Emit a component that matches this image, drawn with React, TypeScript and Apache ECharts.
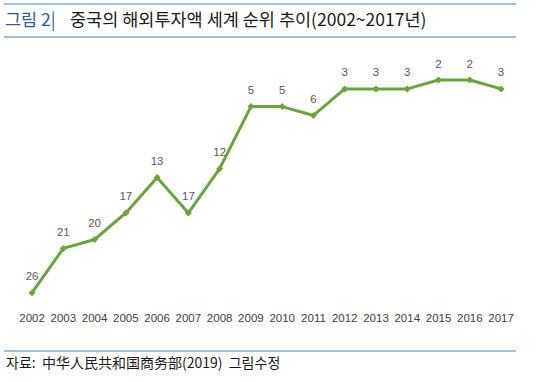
import React, { useEffect, useRef } from "react";
import * as echarts from "echarts";

const years = ["2002","2003","2004","2005","2006","2007","2008","2009","2010","2011","2012","2013","2014","2015","2016","2017"];
const ranks = [26, 21, 20, 17, 13, 17, 12, 5, 5, 6, 3, 3, 3, 2, 2, 3];

const titleLabel = "그림 2|";
const titleText = "중국의 해외투자액 세계 순위 추이(2002~2017년)";
const sourceText = "자료:  中华人民共和国商务部(2019)  그림수정";

export default function App() {
  const ref = useRef<HTMLDivElement>(null);
  useEffect(() => {
    if (!ref.current) return;
    const chart = echarts.init(ref.current, null, { renderer: "svg" });
    const kr = "'Noto Sans CJK KR', 'Noto Sans', sans-serif";
    chart.setOption({
      animation: false,
      backgroundColor: "#ffffff",
      grid: { left: 16.4, right: 19.3, top: 62.3, bottom: 71.6, containLabel: false },
      xAxis: {
        type: "category",
        data: years,
        boundaryGap: true,
        axisLine: { show: false },
        axisTick: { show: false },
        splitLine: { show: false },
        axisLabel: {
          margin: 2,
          color: "#404040",
          fontSize: 11.5,
          fontFamily: "'Liberation Sans', Arial, sans-serif",
          interval: 0,
        },
      },
      yAxis: {
        type: "value",
        inverse: true,
        min: 0,
        max: 28,
        show: false,
        splitLine: { show: false },
      },
      series: [
        {
          type: "line",
          data: ranks,
          symbol: "diamond",
          symbolSize: 7,
          lineStyle: { color: "#6BA43C", width: 3 },
          itemStyle: { color: "#6BA43C" },
          label: {
            show: true,
            position: "top",
            distance: 7,
            color: "#595959",
            fontSize: 11.5,
            fontFamily: "'Liberation Sans', Arial, sans-serif",
          },
        },
      ],
      graphic: [
        { type: "line", shape: { x1: 4, y1: 4, x2: 516, y2: 4 }, style: { stroke: "#4A7EBB", lineWidth: 1.2 } },
        { type: "line", shape: { x1: 4, y1: 37, x2: 516, y2: 37 }, style: { stroke: "#4A7EBB", lineWidth: 1.2 } },
        { type: "line", shape: { x1: 4, y1: 351, x2: 516, y2: 351 }, style: { stroke: "#4A7EBB", lineWidth: 1.2 } },
        {
          type: "text",
          left: 5,
          top: 10,
          style: { text: titleLabel, fill: "#2E5C9A", font: `17.5px ${kr}` },
        },
        {
          type: "text",
          left: 70,
          top: 10,
          style: { text: titleText, fill: "#1a1a1a", font: `17.5px ${kr}` },
        },
        {
          type: "text",
          left: 6,
          top: 355,
          style: { text: sourceText, fill: "#1a1a1a", font: `14px ${kr}` },
        },
      ],
    });
    return () => chart.dispose();
  }, []);
  return <div ref={ref} style={{ width: 536, height: 382, position: "absolute", left: 0, top: 0 }} />;
}
